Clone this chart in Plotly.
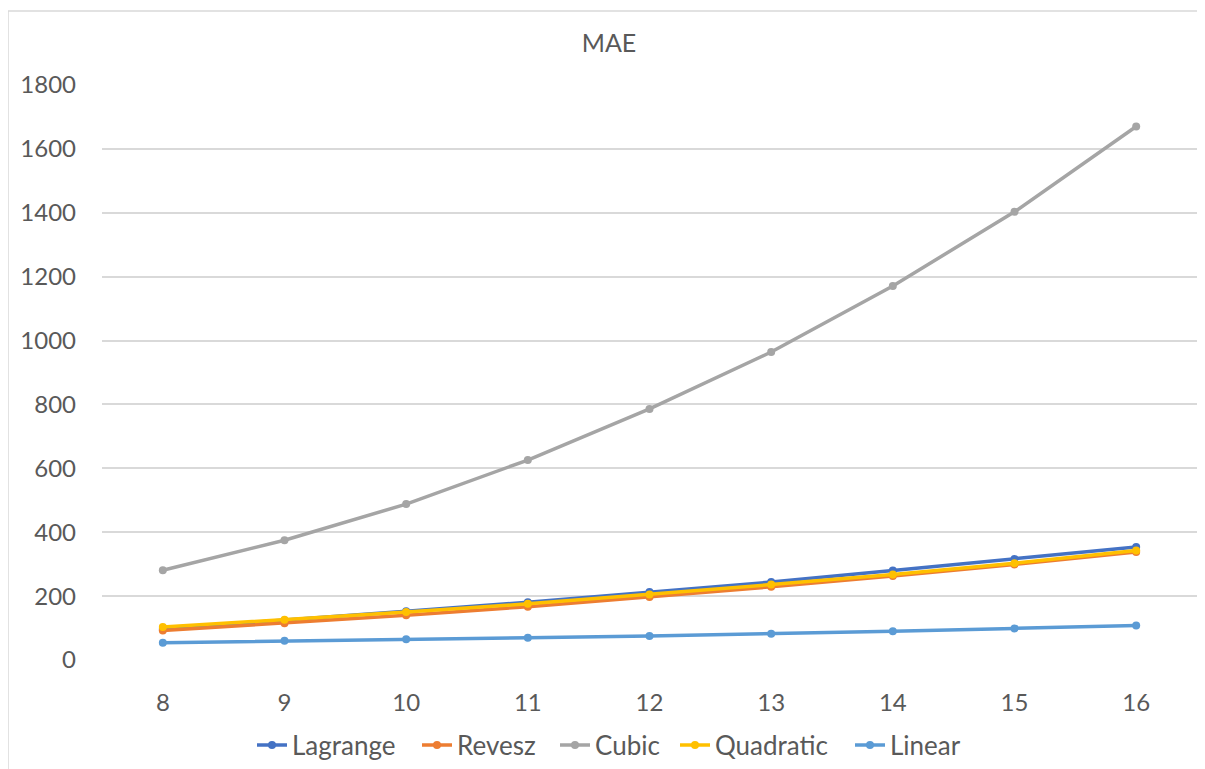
import plotly.graph_objects as go

x_vals = [8, 9, 10, 11, 12, 13, 14, 15, 16]
lagrange = [97, 124, 153, 181, 213, 244, 280, 316, 354]
revesz = [92, 115, 140, 167, 197, 229, 263, 299, 338]
cubic = [281, 375, 488, 626, 786, 964, 1171, 1403, 1670]
quadratic = [103, 126, 150, 176, 205, 236, 268, 303, 343]
linear = [54, 60, 65, 70, 75, 82, 90, 99, 108]

names = ["Lagrange", "Revesz", "Cubic", "Quadratic", "Linear"]
values = [lagrange, revesz, cubic, quadratic, linear]
colors = ["#4472C4", "#ED7D31", "#A5A5A5", "#FFC000", "#5B9BD5"]
# page x of each legend entry's symbol start
legend_x = [262, 427, 565, 685, 860]

FONT = "Lato, Carlito, 'Open Sans', sans-serif"
OFF = 8  # body margin of the page
W, H = 1197, 769
L, R, T, B = 102 - OFF, 8, 85 - OFF, H - (660 - OFF)
pw, ph = W - L - R, H - T - B

fig = go.Figure()
layout_legends = {}
for i, (name, vals, color) in enumerate(zip(names, values, colors)):
    key = "legend" if i == 0 else f"legend{i + 1}"
    fig.add_trace(go.Scatter(
        x=x_vals, y=vals, name=name, mode="lines+markers",
        line=dict(color=color, width=3.5),
        marker=dict(color=color, size=8),
        legend=key,
    ))
    layout_legends[key] = dict(
        orientation="h", xref="container", yref="container",
        x=(legend_x[i] - 10 - OFF) / W, xanchor="left",
        y=1 - (745 - OFF) / H, yanchor="middle",
        font=dict(family=FONT, size=26, color="#595959"),
        bgcolor="rgba(0,0,0,0)", borderwidth=0,
    )

fig.update_layout(
    width=W, height=H,
    margin=dict(l=L, r=R, t=T, b=B, autoexpand=False),
    paper_bgcolor="white", plot_bgcolor="white",
    font=dict(family=FONT, size=24, color="#595959"),
    title=dict(text="MAE", x=(609 - OFF) / W, xanchor="center",
               y=1 - (43 - OFF) / H, yanchor="middle",
               font=dict(family=FONT, size=25, color="#595959")),
    showlegend=True,
    xaxis=dict(range=[7.5, 16.5], tickmode="array", tickvals=x_vals,
               ticktext=[str(v) for v in x_vals], showgrid=False, zeroline=False,
               showline=False, ticks="", ticklen=0, ticklabelstandoff=26,
               tickfont=dict(family=FONT, size=24, color="#595959")),
    yaxis=dict(range=[0, 1800], dtick=200, showgrid=True, gridcolor="#D9D9D9", gridwidth=1.5,
               zeroline=False, showline=False, ticks="", ticklabelstandoff=25,
               tickfont=dict(family=FONT, size=24, color="#595959")),
    shapes=[dict(type="rect", xref="paper", yref="paper",
                 x0=(0 - L) / pw, x1=(W + 20 - L) / pw,
                 y0=(H - B - (H + 20)) / ph, y1=(H - B - 3) / ph,
                 line=dict(color="#D9D9D9", width=1.5), layer="below")],
    **layout_legends,
)

fig.write_html("out.html")
